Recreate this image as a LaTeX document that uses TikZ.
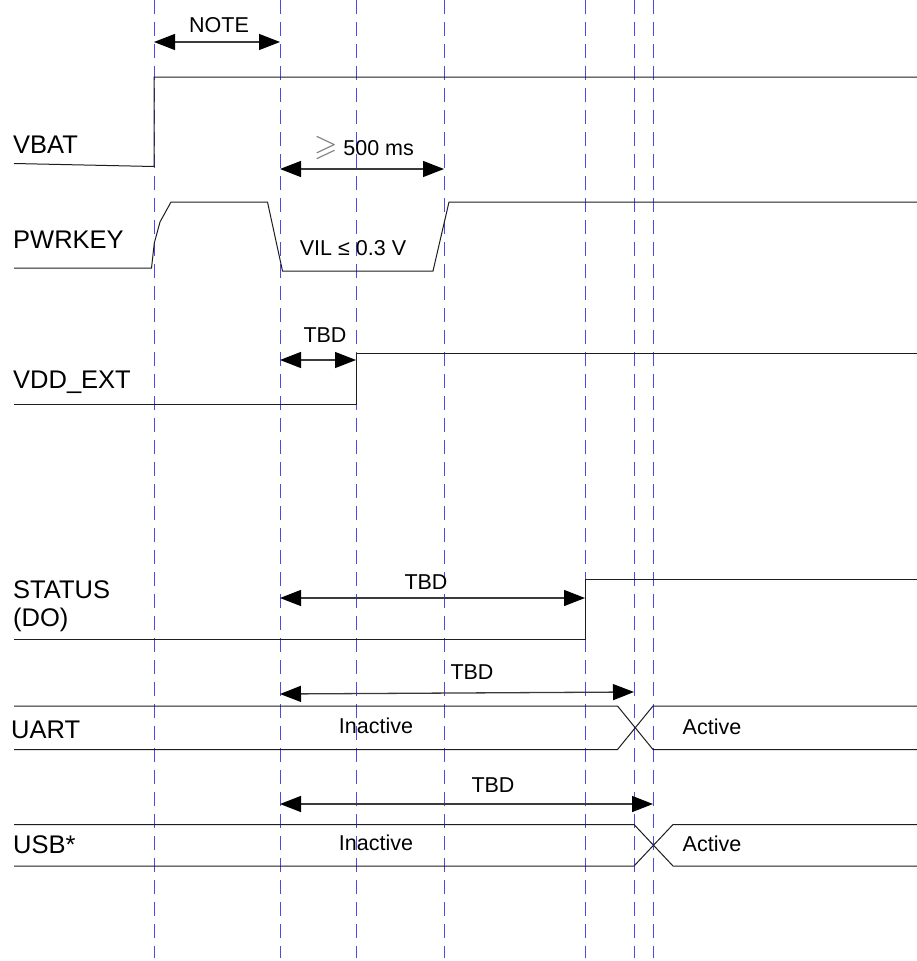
\documentclass[tikz,border=0pt]{standalone}
\usepackage{amssymb}
\usepackage{fontspec}
\setmainfont{Liberation Sans}
\usepackage{tikz}
\usetikzlibrary{
  arrows.meta,
  positioning,
}
\definecolor{guideblue}{HTML}{4A4AE8}
\definecolor{wire}{HTML}{1E1E1E}
\definecolor{dimline}{HTML}{3A3A3A}
\definecolor{symgray}{HTML}{7A7A7A}
\tikzset{
  >={Triangle[length=21pt,width=16pt,color=black]},
  guide/.style={draw=guideblue, line width=1pt, dash pattern=on 14pt off 8pt},
  trace/.style={draw=wire, line width=1pt},
  span/.style={<->, draw=dimline, line width=1.3pt},
  signame/.style={font=\fontsize{25.5}{28}\selectfont, anchor=west, align=left, inner sep=0pt},
  tag/.style={font=\fontsize{21.5}{23}\selectfont, inner sep=0pt},
}

\begin{document}
\begin{tikzpicture}[x=1pt,y=-1pt]
  \fill[white] (0,0) rectangle (917,961);
  \useasboundingbox (0,0) rectangle (917,961);

  % time marks
  \foreach \n/\x in {0/154, 1/280, 2/356, 3/444, 4/585, 5/634, 6/653} {
    \coordinate (t\n) at (\x,0);
    \draw[guide] (\x,0) -- (\x,958);
  }

  \draw[span] (t0 |- 0,42) -- (t1 |- 0,42);
  \node[tag] (note) at (219,25) {NOTE};

  % VBAT
  \node[signame] (vbat) at (13,145) {VBAT};
  \draw[trace] (14,163.5) -- (t0 |- 0,166.5) -- (t0 |- 0,77) -- (917,77);

  % PWRKEY
  \node[signame] (pwrkey) at (13,240) {PWRKEY};
  \draw[trace] (14,268) -- (151.5,268) -- (154.3,243) -- (160,222) -- (171,202)
    -- (267.5,202) -- (282.5,271) -- (433,271) -- (449,202) -- (917,202);
  \draw[span] (t1 |- 0,169) -- (t3 |- 0,169);
  \node[tag] (minpulse) at (364,148) {\textcolor{symgray}{\fontsize{30}{30}\selectfont$\geqslant$} 500 ms};
  \node[tag] (vil) at (353,248) {VIL ≤ 0.3 V};

  % VDD_EXT
  \node[signame] (vddext) at (13,382) {VDD\_EXT};
  \draw[trace] (14,404) -- (t2 |- 0,404) -- (t2 |- 0,353) -- (917,353);
  \draw[span] (t1 |- 0,360) -- (t2 |- 0,360);
  \node[tag] (tbdext) at (325,335) {TBD};

  % STATUS
  \node[signame] (status) at (13,606) {STATUS\\(DO)};
  \draw[trace] (14,639) -- (t4 |- 0,639) -- (t4 |- 0,579) -- (917,579);
  \draw[span] (t1 |- 0,598) -- (t4 |- 0,598);
  \node[tag] (tbdstatus) at (426,582) {TBD};

  % UART
  \node[signame] (uart) at (11,730) {UART};
  \draw[trace] (14,706) -- (617.5,706) -- (653,749.5) -- (917,749.5);
  \draw[trace] (14,749.5) -- (617.5,749.5) -- (653,706) -- (917,706);
  \draw[span] (t1 |- 0,694) -- (t5 |- 0,692);
  \node[tag] (tbduart) at (472,672) {TBD};
  \node[tag] (uartoff) at (376,726) {Inactive};
  \node[tag] (uarton) at (712,727) {Active};

  % USB
  \node[signame] (usb) at (13,845) {USB*};
  \draw[trace] (14,824.5) -- (634,824.5) -- (673,866) -- (917,866);
  \draw[trace] (14,866) -- (634,866) -- (673,824.5) -- (917,824.5);
  \draw[span] (t1 |- 0,804) -- (t6 |- 0,804);
  \node[tag] (tbdusb) at (493,785) {TBD};
  \node[tag] (usboff) at (376,843) {Inactive};
  \node[tag] (usbon) at (712,844) {Active};
\end{tikzpicture}
\end{document}
